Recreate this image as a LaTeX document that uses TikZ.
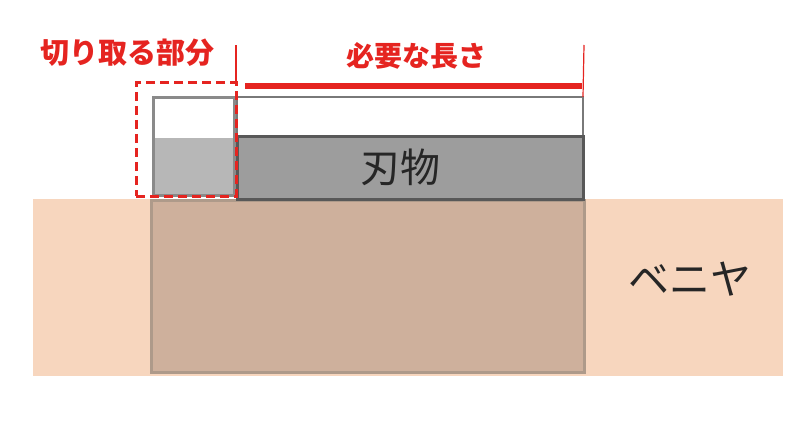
\documentclass[tikz,border=0pt]{standalone}
\usepackage{fontspec}
\newfontfamily\jp{Noto Sans CJK JP}
\definecolor{veneercol}{HTML}{F7D6BE}
\definecolor{overlapcol}{HTML}{CEB09C}
\definecolor{overlapedge}{HTML}{AE9A8A}
\definecolor{bladecol}{HTML}{9D9D9D}
\definecolor{bladeedge}{HTML}{585858}
\definecolor{cutcol}{HTML}{B7B7B7}
\definecolor{cutedge}{HTML}{8A8A8A}
\definecolor{markred}{HTML}{E52420}
\tikzset{
  part/.style={rectangle, inner sep=0pt, outer sep=0pt, anchor=north west},
  redlabel/.style={font=\jp\bfseries\fontsize{28}{28}\selectfont, text=markred},
  blacklabel/.style={font=\jp\fontsize{41}{41}\selectfont, text=black!85}
}
\begin{document}
\begin{tikzpicture}[x=1pt, y=-1pt]
    \useasboundingbox (0,0) rectangle (811,425);

    % Veneer and the part under the blade
    \node[part, fill=veneercol, minimum width=750pt, minimum height=177pt] (veneer) at (33,199) {};
    \node[part, fill=overlapcol, draw=overlapedge, line width=3.5pt, minimum width=433pt, minimum height=172pt] (overlap) at (151.5,200.5) {};

    % Blade
    \node[part, fill=white, draw=bladeedge!80, line width=2.5pt, minimum width=346pt, minimum height=40pt] (edge) at (237,97) {};
    \node[part, fill=bladecol, draw=bladeedge, line width=3pt, minimum width=346pt, minimum height=62pt] (blade) at (237,137) {};

    % Part that is cut off
    \node[part, fill=white, minimum width=80pt, minimum height=41pt] (cuttop) at (154,97.5) {};
    \node[part, fill=cutcol, minimum width=80pt, minimum height=59pt] (cutlow) at (154,138) {};
    \node[part, draw=cutedge, line width=3.5pt, minimum width=81pt, minimum height=98pt] (cut) at (153.5,97.5) {};
    \node[part, draw=markred, line width=3pt, dash pattern=on 9pt off 5pt, minimum width=100pt, minimum height=113pt] (cutmark) at (136,83) {};

    % Length marks
    \coordinate (leftend) at (236,45);
    \coordinate (rightend) at (584,45);
    \draw[markred, line width=1.2pt] (cutmark.north east) -- (leftend);
    \draw[markred, line width=1.2pt] (edge.north east) -- (rightend);
    \coordinate (lenA) at (245,86);
    \coordinate (lenB) at (582,86);
    \draw[markred, line width=5.5pt] (lenA) -- (lenB);

    % Labels
    \node[redlabel, font=\jp\bfseries\fontsize{29}{29}\selectfont] (cutlabel) at (127,53) {切り取る部分};
    \node[redlabel] (lenlabel) at (416,56) {必要な長さ};
    \node[blacklabel, font=\jp\fontsize{40}{40}\selectfont] (bladelabel) at (400,167) {刃物};
    \node[blacklabel] (veneerlabel) at (690,279) {ベニヤ};
\end{tikzpicture}
\end{document}
